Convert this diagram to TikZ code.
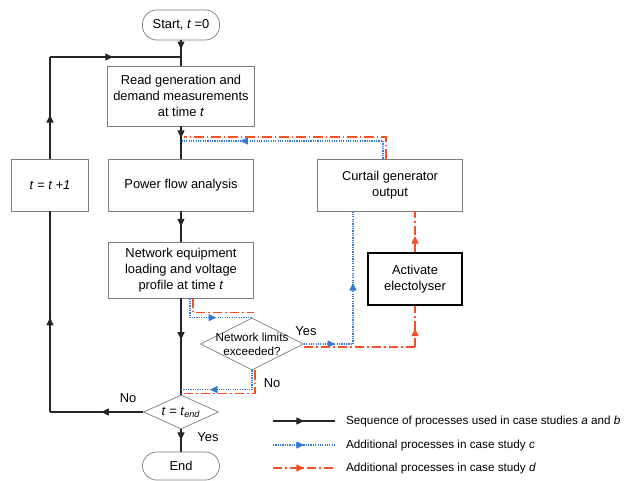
\documentclass[tikz,border=0pt]{standalone}
\usepackage{fontspec}
\setmainfont{Liberation Sans}
\usetikzlibrary{arrows.meta,decorations.markings,shapes.geometric}

\definecolor{casec}{RGB}{55,120,215}
\definecolor{cased}{RGB}{245,80,40}
\definecolor{boxgray}{RGB}{125,125,125}

\tikzset{
	proc/.style={draw=boxgray, line width=0.6pt, fill=white, align=center, inner sep=0pt},
	term/.style={proc, rounded corners=0.42cm},
	dec/.style={draw=boxgray, line width=0.6pt, fill=white, diamond, inner sep=0pt},
	seqline/.style={draw=black!85, line width=0.9pt},
	cline/.style={draw=casec, line width=0.9pt, dash pattern=on 1pt off 1pt},
	dline/.style={draw=cased, line width=0.9pt, dash pattern=on 8pt off 2.5pt on 1.5pt off 2.5pt},
	midarr/.style={postaction={decorate, decoration={markings,
		mark=at position #1 with {\arrow{Triangle[length=6.5pt,width=6pt]}}}}},
	midarr/.default=0.5
}

\begin{document}
\begin{tikzpicture}[x=0.03cm, y=-0.03cm, font=\fontsize{11}{13.6}\selectfont]
		\useasboundingbox (0,0) rectangle (626,480);

		% boxes
		\node[term, minimum width=2.31cm, minimum height=0.9cm] (start) at (181,25) {Start, \textit{t} =0};
		\node[proc, minimum width=4.41cm, minimum height=1.8cm] (read) at (181,96) {Read generation and\\demand measurements\\at time \textit{t}};
		\node[proc, minimum width=4.35cm, minimum height=1.56cm] (flow) at (181,185) {Power flow analysis};
		\node[proc, minimum width=2.31cm, minimum height=1.56cm] (tinc) at (50,185) {\textit{t} = \textit{t +1}};
		\node[proc, minimum width=4.35cm, minimum height=1.68cm] (netw) at (181,270) {Network equipment\\loading and voltage\\profile at time \textit{t}};
		\node[proc, minimum width=4.35cm, minimum height=1.56cm] (curt) at (390,185) {Curtail generator\\output};
		\node[proc, draw=black, line width=1.2pt, minimum width=2.82cm, minimum height=1.56cm] (elec) at (415,279) {Activate\\electolyser};
		\node[dec, minimum width=3.09cm, minimum height=1.56cm] (lim) at (252,344) {};
		\node[align=center, font=\fontsize{10}{12}\selectfont] (limtxt) at (252,344) {Network limits\\exceeded?};
		\node[dec, minimum width=2.25cm, minimum height=1.02cm] (tend) at (181,412) {};
		\node (tendtxt) at (181,412) {\textit{t} = \textit{t}\textsubscript{\textit{end}}};
		\node[term, minimum width=2.31cm, minimum height=0.84cm] (end) at (181,466) {End};

		% bends
		\coordinate (j1) at (181,57);
		\coordinate (jl) at (50,57);
		\coordinate (jb) at (50,412);
		\coordinate (cjoin) at (181,141);
		\coordinate (djoin) at (184,137);
		\coordinate (cyes) at (353,344);
		\coordinate (dyes) at (415,347);

		% main sequence
		\draw[seqline, midarr=0.35] (start) -- (read);
		\draw[seqline, midarr=0.36] (read) -- (flow);
		\draw[seqline, midarr] (flow) -- (netw);
		\draw[seqline, midarr=0.43] (netw) -- (tend);
		\draw[seqline, midarr=0.48] (tend) -- (end);
		\draw[seqline, midarr=0.45] (tend) -- (jb);
		\draw[seqline, midarr=0.47] (jb) -- (tinc);
		\draw[seqline, midarr=0.43] (tinc) -- (jl);
		\draw[seqline, midarr=0.48] (jl) -- (j1);

		% case study c
		\draw[cline, midarr=0.56] ([xshift=0.27cm]netw.south) |- (lim.north);
		\draw[cline, midarr=0.68] (lim.south) |- ([yshift=0.15cm]tend.north);
		\draw[cline, midarr=0.64] (lim.east) -- (cyes);
		\draw[cline, midarr=0.46] (cyes) -- (cyes |- curt.south);
		\draw[cline, midarr=0.73] ([xshift=-0.21cm]curt.north) |- (cjoin);

		% case study d
		\draw[dline] ([xshift=0.36cm]netw.south) |- ([xshift=0.06cm,yshift=0.15cm]lim.north);
		\draw[dline] ([xshift=0.09cm]lim.south) |- ([yshift=0.03cm]tend.north);
		\draw[dline] ([yshift=-0.09cm]lim.east) -- (dyes);
		\draw[dline, midarr=0.45] (dyes) -- (elec);
		\draw[dline, midarr=0.4] (elec.north) -- (elec.north |- curt.south);
		\draw[dline] ([xshift=-0.12cm]curt.north) |- (djoin);

		% labels
		\node (yes1) at (306,331) {Yes};
		\node (no1) at (272,383) {No};
		\node (no2) at (128,398) {No};
		\node (yes2) at (208,437) {Yes};

		% legend
		\coordinate (l1a) at (273,421);
		\coordinate (l1b) at (335,421);
		\coordinate (l2a) at (273,445);
		\coordinate (l2b) at (335,445);
		\coordinate (l3a) at (273,468);
		\coordinate (l3b) at (335,468);
		\draw[seqline, midarr] (l1a) -- (l1b);
		\draw[cline, midarr] (l2a) -- (l2b);
		\draw[dline, midarr] (l3a) -- (l3b);
		\begin{scope}[font=\fontsize{10}{12}\selectfont]
			\node[anchor=west] (l1t) at (342,421) {Sequence of processes used in case studies \textit{a} and \textit{b}};
			\node[anchor=west] (l2t) at (342,445) {Additional processes in case study \textit{c}};
			\node[anchor=west] (l3t) at (342,468) {Additional processes in case study \textit{d}};
		\end{scope}
\end{tikzpicture}
\end{document}
